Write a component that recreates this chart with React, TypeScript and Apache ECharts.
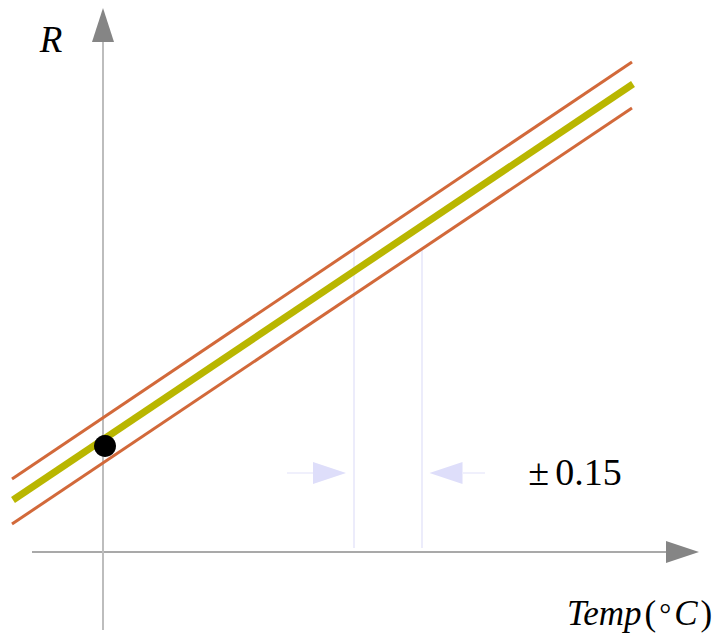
import React, { useEffect, useRef } from "react";
import * as echarts from "echarts";

// Conceptual units: 1 unit = 10 px, origin at the axes' crossing point
const centerLine: [number, number][] = [[-9.0, 5.2], [53.0, 46.8]];
const upperLine: [number, number][] = [[-9.1, 7.3], [52.9, 49.0]];
const lowerLine: [number, number][] = [[-9.1, 2.8], [52.9, 44.4]];
const refPoint: [number, number][] = [[0.2, 10.6]];
const leftBound: [number, number][] = [[25.1, 30.3], [25.1, 0.4]];
const rightBound: [number, number][] = [[31.9, 30.3], [31.9, 0.4]];
const xAxisLine: [number, number][] = [[-7.1, 0], [58.0, 0]];
const yAxisLine: [number, number][] = [[0, -7.8], [0, 52.7]];
const xArrowHead: [number, number][] = [[57.95, 0]];
const yArrowHead: [number, number][] = [[0, 52.7]];
const leftArrowShaft: [number, number][] = [[18.4, 7.9], [21.0, 7.9]];
const leftArrowHead: [number, number][] = [[22.65, 7.9]];
const rightArrowShaft: [number, number][] = [[36.0, 7.9], [38.2, 7.9]];
const rightArrowHead: [number, number][] = [[34.3, 7.9]];
const toleranceSign = "±";
const toleranceValue = "0.15";
const yName = "R";

const SERIF = '"Liberation Serif", "DejaVu Serif", serif';

function seg(data: [number, number][], color: string, width: number, z = 2) {
  return {
    type: "line",
    data,
    showSymbol: false,
    symbol: "none",
    silent: true,
    z,
    lineStyle: { color, width, cap: "butt", opacity: 1 },
  };
}

function head(data: [number, number][], color: string, size: number[], rotate: number, z = 3) {
  return {
    type: "scatter",
    data,
    symbol: "triangle",
    symbolSize: size,
    symbolRotate: rotate,
    silent: true,
    z,
    itemStyle: { color, opacity: 1 },
  };
}

export default function App() {
  const ref = useRef<HTMLDivElement>(null);
  useEffect(() => {
    if (!ref.current) return;
    const chart = echarts.init(ref.current, undefined, { renderer: "svg" });
    chart.setOption({
      animation: false,
      backgroundColor: "#ffffff",
      grid: { left: 0, right: 0, top: 0, bottom: 0, containLabel: false },
      xAxis: { type: "value", min: -10.3, max: 62.0, show: false },
      yAxis: { type: "value", min: -8.2, max: 55.2, show: false },
      series: [
        seg(xAxisLine, "#8c8c8c", 1.5, 1),
        seg(yAxisLine, "#bdbdbd", 2, 1),
        head(xArrowHead, "#858585", [22, 33], -90, 1),
        head(yArrowHead, "#858585", [22, 34], 0, 1),
        seg(leftBound, "#e6e6fa", 1.5, 1),
        seg(rightBound, "#e6e6fa", 1.5, 1),
        seg(leftArrowShaft, "#ebebfb", 1.5, 1),
        seg(rightArrowShaft, "#ebebfb", 1.5, 1),
        head(leftArrowHead, "#dedefa", [22, 33], -90, 1),
        head(rightArrowHead, "#dedefa", [22, 33], 90, 1),
        seg(upperLine, "#d2693a", 3, 2),
        seg(lowerLine, "#d2693a", 3, 2),
        seg(centerLine, "#b9b600", 7, 2),
        {
          type: "scatter",
          data: refPoint,
          symbol: "circle",
          symbolSize: 22,
          silent: true,
          z: 5,
          itemStyle: { color: "#000000", opacity: 1 },
        },
      ],
      graphic: [
        {
          type: "text",
          x: 51,
          y: 39,
          style: {
            text: yName,
            fontSize: 37,
            fontStyle: "italic",
            fontFamily: SERIF,
            fill: "#000",
            align: "center",
            verticalAlign: "middle",
          },
        },
        {
          type: "text",
          x: 575,
          y: 472,
          style: {
            text: `{pm|${toleranceSign}}{num|${toleranceValue}}`,
            fontSize: 38,
            fontFamily: SERIF,
            fill: "#000",
            align: "center",
            verticalAlign: "middle",
            rich: {
              pm: { fontSize: 38, fontFamily: SERIF, fill: "#000", padding: [0, 6, 0, 0] },
              num: { fontSize: 38, fontFamily: SERIF, fill: "#000" },
            },
          },
        },
        {
          type: "text",
          x: 567,
          y: 613,
          style: {
            text: "{it|Temp}{up|(}{deg|°}{it|C}{up|)}",
            fontSize: 35,
            fontFamily: SERIF,
            fill: "#000",
            align: "left",
            verticalAlign: "middle",
            rich: {
              it: { fontSize: 35, fontStyle: "italic", fontFamily: SERIF, fill: "#000" },
              up: { fontSize: 35, fontFamily: SERIF, fill: "#000", padding: [0, 3, 0, 3] },
              deg: { fontSize: 30, fontFamily: SERIF, fill: "#000", padding: [0, 3, 0, 0] },
            },
          },
        },
      ],
    });
    return () => chart.dispose();
  }, []);
  return (
    <div
      ref={ref}
      style={{ position: "absolute", left: 0, top: 0, width: 723, height: 634 }}
    />
  );
}
